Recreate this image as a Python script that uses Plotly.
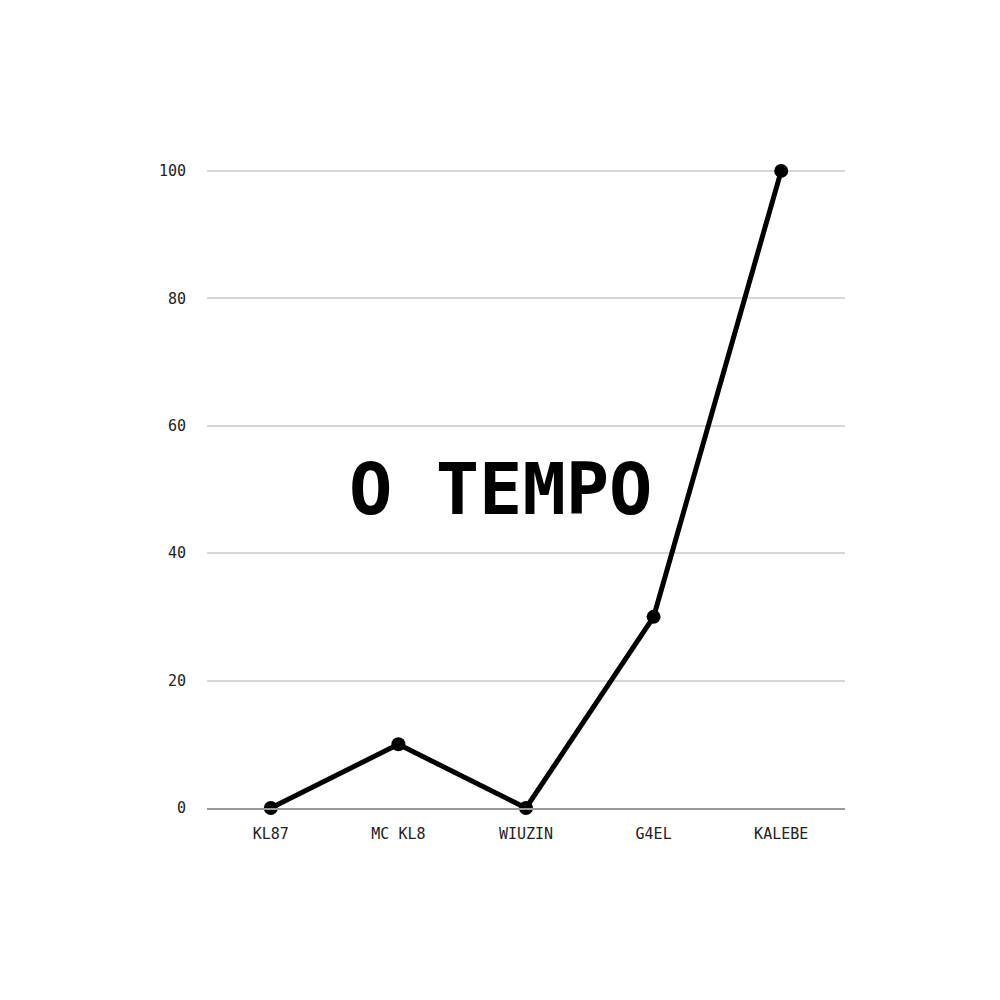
import plotly.graph_objects as go

categories = ["KL87", "MC KL8", "WIUZIN", "G4EL", "KALEBE"]
values = [0, 10, 0, 30, 100]
y_ticks = [0, 20, 40, 60, 80, 100]
title_text = "O TEMPO"

fig = go.Figure()
fig.add_trace(go.Scatter(
    x=categories, y=values, mode="lines+markers",
    line=dict(color="black", width=5),
    marker=dict(color="black", size=14),
    cliponaxis=False,
))

fig.add_annotation(
    x=1.8, y=50, xref="x", yref="y", text="<b>" + title_text + "</b>", showarrow=False,
    font=dict(family="DejaVu Sans Mono", size=72, color="black"),
)

fig.update_layout(
    width=1000, height=1000,
    margin=dict(l=199, r=163, t=161, b=200),
    paper_bgcolor="white", plot_bgcolor="white",
    showlegend=False,
    font=dict(family="DejaVu Sans Mono", size=14, color="#333"),
)
fig.update_xaxes(
    type="category", range=[-0.5, 4.5], showgrid=False,
    showline=True, linecolor="#999", linewidth=2,
    ticks="", ticklabelstandoff=11, tickfont=dict(size=15, color="#222"),
)
fig.update_yaxes(
    range=[0, 100.3], tickvals=y_ticks, showgrid=True, gridcolor="#d6d6d6",
    gridwidth=1.5, zeroline=False, showline=False, ticks="",
    ticklabelstandoff=20, tickfont=dict(size=15, color="#222"),
)
fig.write_html("out.html")
